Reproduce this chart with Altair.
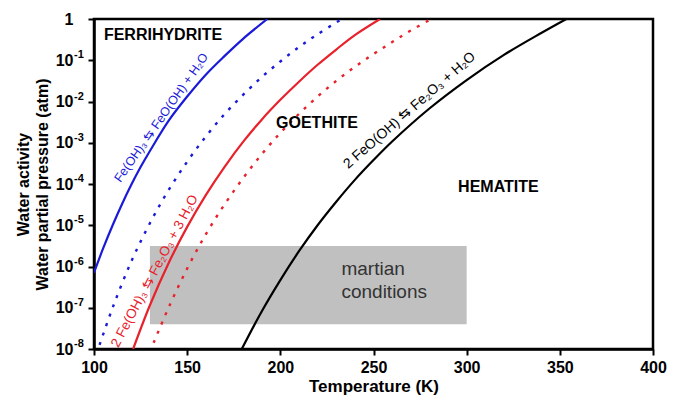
import altair as alt
import pandas as pd

# Curves: temperature (K) and log10 of water partial pressure (atm)
blue_solid_T = [100, 105, 110, 115, 120, 125, 130, 140, 150, 160, 170, 180, 193]
blue_solid_logp = [-6.15, -5.55, -5.0, -4.49, -4.02, -3.59, -3.2, -2.47, -1.88, -1.35, -0.9, -0.48, 0.0]

blue_dot_T = [103, 110, 120, 130, 140, 150, 160, 170, 180, 190, 200, 210, 220, 233]
blue_dot_logp = [-7.9, -7.0, -5.88, -4.95, -4.15, -3.46, -2.85, -2.31, -1.84, -1.41, -1.03, -0.68, -0.37, 0.0]

red_solid_T = [121, 130, 140, 150, 160, 170, 180, 190, 200, 210, 220, 230, 240, 253.5]
red_solid_logp = [-8.0, -6.94, -5.92, -5.04, -4.27, -3.59, -2.98, -2.44, -1.96, -1.52, -1.11, -0.74, -0.39, 0.0]

red_dot_T = [132, 140, 150, 160, 170, 180, 190, 200, 210, 220, 230, 240, 250, 260, 270, 281]
red_dot_logp = [-7.85, -7.0, -6.05, -5.22, -4.5, -3.86, -3.28, -2.76, -2.3, -1.88, -1.5, -1.16, -0.85, -0.56, -0.28, 0.0]

black_T = [179.3, 190, 200, 210, 220, 230, 240, 250, 260, 280, 300, 320, 340, 353.5]
black_logp = [-8.0, -7.09, -6.33, -5.63, -5.0, -4.43, -3.9, -3.42, -2.97, -2.17, -1.48, -0.87, -0.34, 0.0]

# Martian conditions box
mars_T = [130, 300]
mars_logp = [-5.5, -7.4]

# Region labels
region_names = ["FERRIHYDRITE", "GOETHITE", "HEMATITE"]
region_T = [105.3, 197.7, 295.4]
region_logp = [-0.39, -2.53, -4.07]

# Reaction labels
rx_text = ["Fe(OH)₃ ⇆ FeO(OH) + H₂O",
           "2 Fe(OH)₃ ⇆ Fe₂O₃ + 3 H₂O",
           "2 FeO(OH) ⇆ Fe₂O₃ + H₂O"]
rx_T = [136.1, 132.6, 269.4]
rx_logp = [-2.39, -6.11, -2.22]

x_ticks = [100, 150, 200, 250, 300, 350, 400]
y_ticks = [-8, -7, -6, -5, -4, -3, -2, -1, 0]
y_exp_ticks = [-8, -7, -6, -5, -4, -3, -2, -1]
y_exp_labels = ["-8", "-7", "-6", "-5", "-4", "-3", "-2", "-1"]

BLUE = "#1a1ad8"
RED = "#e8212b"
FONT = "Liberation Sans"

xs = alt.Scale(domain=[100, 400], nice=False, zero=False)
ys = alt.Scale(domain=[-8, 0], nice=False, zero=False)

xaxis = alt.Axis(values=x_ticks, title="Temperature (K)", grid=False, labelFontSize=16,
                 labelFontWeight="bold", titleFontSize=17, titleFontWeight="bold",
                 tickSize=6, labelPadding=4, titlePadding=3, labelFlush=False)
yaxis = alt.Axis(values=y_ticks, title=["Water activity", "Water partial pressure (atm)"],
                 grid=False, labelFontSize=16, labelFontWeight="bold", labelFlush=False,
                 labelExpr="datum.value == 0 ? '1' : '10'",
                 titleFontSize=16, titleFontWeight="bold", titleLineHeight=19,
                 tickSize=6, labelPadding=15, titlePadding=5)

def curve(T, lp, color, dash=None):
    df = pd.DataFrame({"T": T, "logp": lp})
    kw = dict(color=color, strokeWidth=2.2, interpolate="catmull-rom", clip=True)
    if dash:
        kw["strokeDash"] = dash
        kw["strokeWidth"] = 2.4
    return alt.Chart(df).mark_line(**kw).encode(
        x=alt.X("T:Q", scale=xs, axis=xaxis),
        y=alt.Y("logp:Q", scale=ys, axis=yaxis),
    )

box_df = pd.DataFrame({"T1": [mars_T[0]], "T2": [mars_T[1]], "p1": [mars_logp[0]], "p2": [mars_logp[1]]})
box = alt.Chart(box_df).mark_rect(color="#c0c0c0").encode(
    x=alt.X("T1:Q", scale=xs, axis=xaxis), x2="T2:Q",
    y=alt.Y("p1:Q", scale=ys, axis=yaxis), y2="p2:Q",
)

# exponents of the y tick labels (superscript look)
exp_df = pd.DataFrame({"T": [x_ticks[0]] * len(y_exp_ticks), "logp": y_exp_ticks, "e": y_exp_labels})
exps = alt.Chart(exp_df).mark_text(
    align="left", baseline="middle", fontSize=11, fontWeight="bold", font=FONT,
    color="black", dx=-20, dy=-5
).encode(x=alt.X("T:Q", scale=xs), y=alt.Y("logp:Q", scale=ys), text="e:N")

mars_text = alt.Chart(pd.DataFrame({"T": [232.8], "logp": [-6.05], "t": [["martian", "conditions"]]})).mark_text(
    align="left", baseline="middle", fontSize=19, font=FONT, color="#333333", lineHeight=23
).encode(x=alt.X("T:Q", scale=xs), y=alt.Y("logp:Q", scale=ys), text="t")

region_df = pd.DataFrame({"T": region_T, "logp": region_logp, "name": region_names})
regions = alt.Chart(region_df).mark_text(
    align="left", baseline="middle", fontSize=16, fontWeight="bold", font=FONT, color="black"
).encode(x=alt.X("T:Q", scale=xs), y=alt.Y("logp:Q", scale=ys), text="name:N")

def rx_label(i, color, angle, size):
    df = pd.DataFrame({"T": [rx_T[i]], "logp": [rx_logp[i]], "t": [rx_text[i]]})
    return alt.Chart(df).mark_text(
        align="center", baseline="middle", fontSize=size, font=FONT,
        color=color, angle=angle
    ).encode(x=alt.X("T:Q", scale=xs), y=alt.Y("logp:Q", scale=ys), text="t:N")

chart = alt.layer(
    box,
    mars_text,
    curve(blue_solid_T, blue_solid_logp, BLUE),
    curve(blue_dot_T, blue_dot_logp, BLUE, [3, 7]),
    curve(red_solid_T, red_solid_logp, RED),
    curve(red_dot_T, red_dot_logp, RED, [3, 7]),
    curve(black_T, black_logp, "black"),
    regions,
    exps,
    rx_label(0, BLUE, 305, 12.5),
    rx_label(1, RED, 298, 13.5),
    rx_label(2, "black", 319, 14),
).properties(
    width=559, height=330,
    autosize=alt.AutoSizeParams(type="none"),
    padding={"left": 86, "top": 11, "right": 14, "bottom": 47},
).configure_view(
    stroke="black", strokeWidth=2.5
).configure_axis(
    domainColor="black", domainWidth=2.5, tickColor="black", tickWidth=2,
    labelColor="black", titleColor="black", labelFont=FONT, titleFont=FONT
)

chart.save("out.html", embed_options={"renderer": "svg", "actions": False})
